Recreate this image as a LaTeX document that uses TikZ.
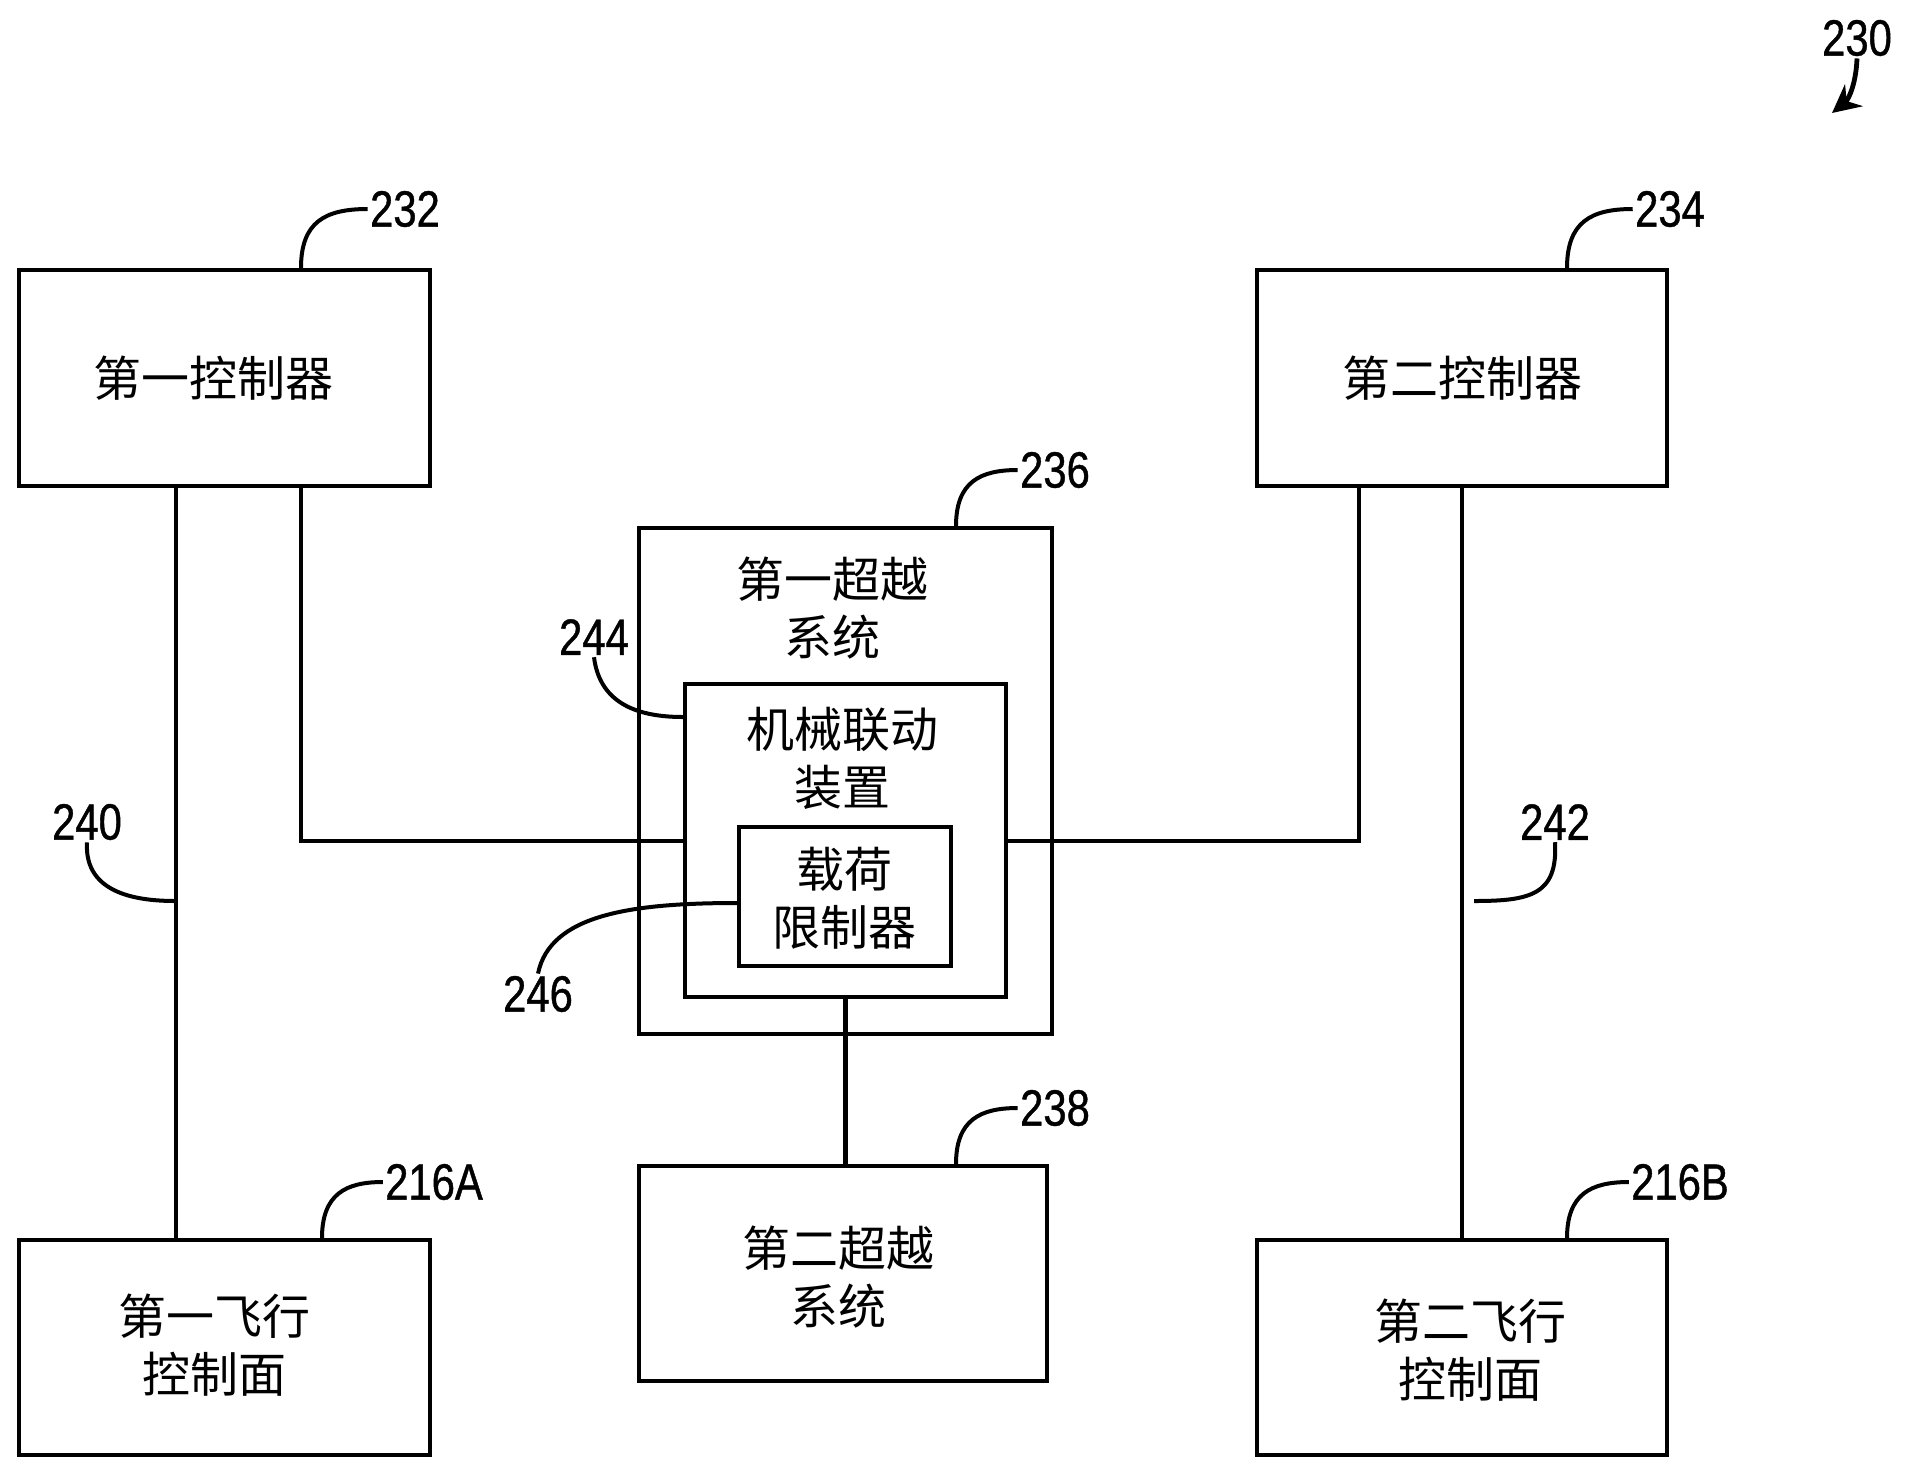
\documentclass[tikz,border=0pt]{standalone}
\usepackage{fontspec}
\newfontfamily\cjk{Noto Sans CJK SC}
\newfontfamily\numf[FakeStretch=0.82,FakeBold=0.8]{Liberation Sans}
\usetikzlibrary{arrows.meta}
\tikzset{
  box/.style={draw, line width=2pt, inner sep=0pt},
  txt/.style={font=\cjk\fontsize{24}{29}\selectfont, align=center, inner sep=0pt},
  num/.style={font=\numf\fontsize{25.5}{28}\selectfont, inner sep=1pt},
  wire/.style={line width=2pt},
  thickwire/.style={line width=2.6pt},
  leader/.style={line width=2pt},
}
\begin{document}
\begin{tikzpicture}[x=0.5pt,y=-0.5pt]
\useasboundingbox (0,0) rectangle (1905,1473);
% boxes
\node[box, minimum width=205.5pt, minimum height=108pt] (c1) at (224.5,378) {};
\node[box, minimum width=205pt, minimum height=108pt] (c2) at (1462,378) {};
\node[box, minimum width=206.5pt, minimum height=253pt] (o1) at (845.5,781) {};
\node[box, minimum width=160.5pt, minimum height=156.5pt] (m) at (845.5,840.5) {};
\node[box, minimum width=106pt, minimum height=69.5pt] (lim) at (845,896.5) {};
\node[box, minimum width=204pt, minimum height=107.5pt] (o2) at (843,1273.5) {};
\node[box, minimum width=205.5pt, minimum height=107.5pt] (s1) at (224.5,1347.5) {};
\node[box, minimum width=205pt, minimum height=107.5pt] (s2) at (1462,1347.5) {};
% texts
\node[txt] (t1) at (213,378) {第一控制器};
\node[txt] (t2) at (1462,378) {第二控制器};
\node[txt] (t3) at (832,608) {第一超越\\系统};
\node[txt] (t4) at (842,758) {机械联动\\装置};
\node[txt] (t5) at (844,898) {载荷\\限制器};
\node[txt] (t6) at (838,1277) {第二超越\\系统};
\node[txt] (t7) at (214,1345) {第一飞行\\控制面};
\node[txt] (t8) at (1470,1350) {第二飞行\\控制面};
% connectors
\draw[wire] (c1.south -| 176,0) -- (s1.north -| 176,0);
\draw[wire] (c2.south -| 1462,0) -- (s2.north -| 1462,0);
\draw[wire] (c1.south -| 301,0) |- (m.west);
\draw[wire] (m.east) -| (c2.south -| 1359,0);
\draw[thickwire] (m.south) -- (o2.north -| m.south);
% labels
\node[num] (n232) at (405,209) {232};
\node[num] (n234) at (1670,209) {234};
\node[num] (n236) at (1055,470) {236};
\node[num] (n238) at (1055,1108) {238};
\node[num] (n216a) at (434,1182) {216A};
\node[num] (n216b) at (1680,1182) {216B};
\node[num] (n244) at (594,637) {244};
\node[num] (n246) at (538,994) {246};
\node[num] (n240) at (87,822) {240};
\node[num] (n242) at (1555,822) {242};
\node[num] (n230) at (1857,38) {230};
% leaders
\draw[leader] (c1.north -| 301,0) .. controls (301,222) and (325,209) .. (n232.west);
\draw[leader] (c2.north -| 1567,0) .. controls (1567,222) and (1591,209) .. (n234.west);
\draw[leader] (o1.north -| 956,0) .. controls (956,482) and (980,470) .. (n236.west);
\draw[leader] (o2.north -| 956,0) .. controls (956,1120) and (980,1108) .. (n238.west);
\draw[leader] (s1.north -| 322,0) .. controls (322,1194) and (346,1182) .. (n216a.west);
\draw[leader] (s2.north -| 1567,0) .. controls (1567,1194) and (1591,1182) .. (n216b.west);
\draw[leader] (n244.south) .. controls (600,705) and (640,717) .. (m.west |- 0,717);
\draw[leader] (n246.north) .. controls (550,915) and (630,903) .. (lim.west |- 0,903);
\draw[leader] (n240.south) .. controls (84,895) and (140,901) .. (176,901);
\draw[leader] (1474,901) .. controls (1530,901) and (1558,895) .. (n242.south);
\draw[leader, line width=2.4pt, -{Stealth[length=14pt, width=14pt]}] (n230.south) .. controls (1856,85) and (1848,100) .. (1832,113);
\end{tikzpicture}
\end{document}
